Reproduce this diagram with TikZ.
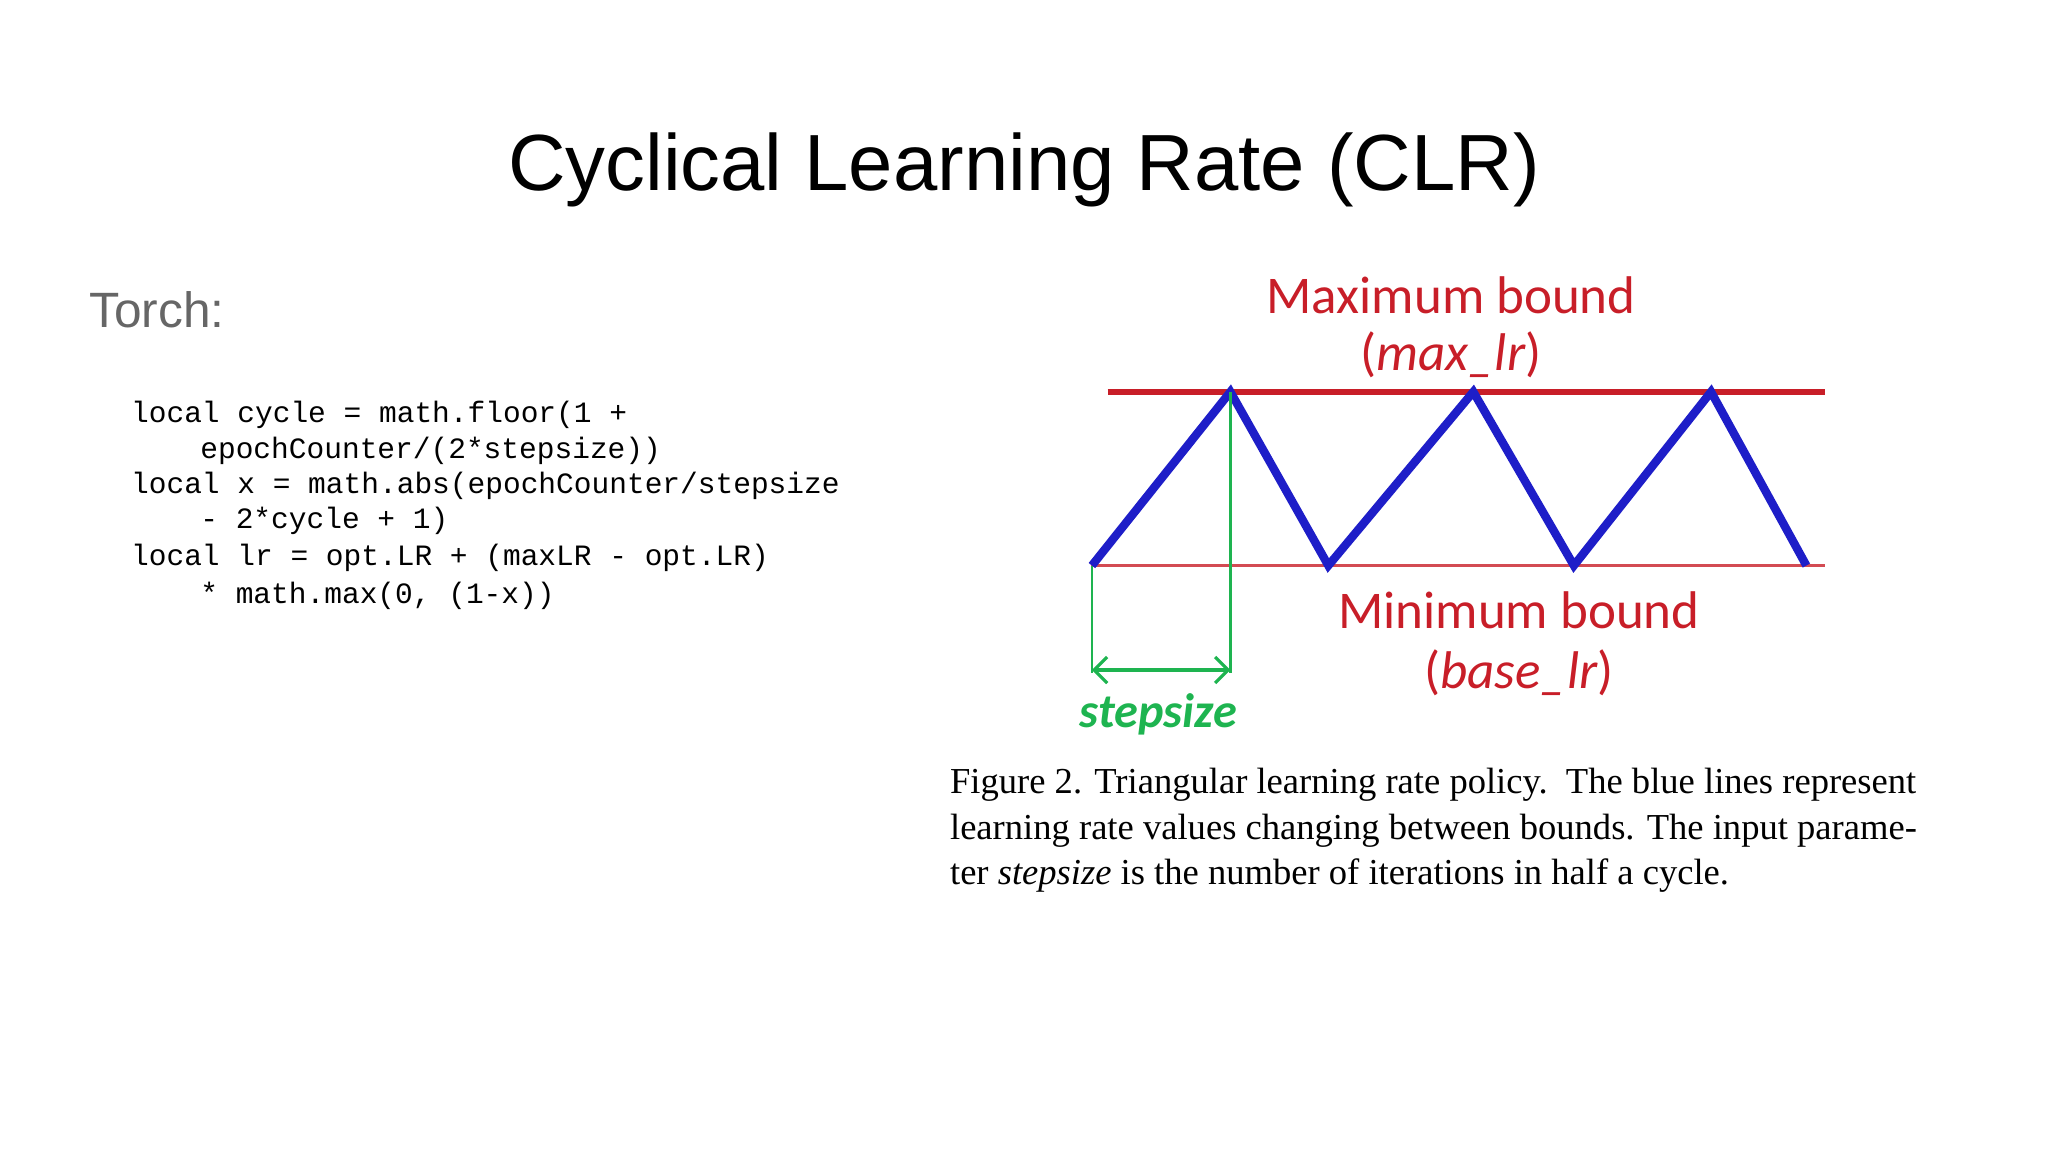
\documentclass[tikz,border=0pt]{standalone}
\usepackage{fontspec}
\setmainfont{Liberation Serif}
\newfontfamily\arialf{Liberation Sans}
\newfontfamily\calib{Carlito}
\newfontfamily\monof{Liberation Mono}
\usetikzlibrary{arrows.meta}
\definecolor{cred}{RGB}{200,30,40}
\definecolor{cblue}{RGB}{30,30,200}
\definecolor{cgreen}{RGB}{30,180,80}
\tikzset{codeline/.style={anchor=west,inner sep=0,font=\monof\fontsize{11.3}{12}\selectfont},
capline/.style={anchor=west,inner sep=0,font=\fontsize{14}{15}\selectfont},
lbl/.style={inner sep=0,text=cred,font=\calib\fontsize{20.3}{21}\selectfont}}
\begin{document}
\begin{tikzpicture}[x=0.5pt,y=-0.5pt]
\useasboundingbox (0,0) rectangle (1568,882);
\node (title) at (784,130) {\arialf\fontsize{30.5}{36}\selectfont Cyclical Learning Rate (CLR)};
\node[anchor=west,inner sep=0,text=black!60] (torch) at (68,237) {\arialf\fontsize{19}{20}\selectfont Torch:};
\node[codeline] (c1) at (100,318) {local cycle = math.floor(1 +};
\node[codeline] (c2) at (153,345) {epochCounter/(2*stepsize))};
\node[codeline] (c3) at (100,372) {local x = math.abs(epochCounter/stepsize};
\node[codeline] (c4) at (153,399) {- 2*cycle + 1)};
\node[codeline] (c5) at (100,427) {local lr = opt.LR + (maxLR - opt.LR)};
\node[codeline] (c6) at (153,456) {* math.max(0, (1-x))};
% chart
\coordinate (mx1) at (848,300); \coordinate (mx2) at (1397,300);
\coordinate (mn1) at (835,433); \coordinate (mn2) at (1397,433);
\draw[cred,line width=2.2pt] (mx1) -- (mx2);
\draw[cred!80,line width=1.2pt] (mn1) -- (mn2);
\coordinate (p0) at (836,433); \coordinate (p1) at (942,300); \coordinate (p2) at (1017,433);
\coordinate (p3) at (1128,300); \coordinate (p4) at (1205,433); \coordinate (p5) at (1310,300);
\coordinate (p6) at (1383,433);
\draw[cblue,line width=3.2pt] (p0)--(p1)--(p2)--(p3)--(p4)--(p5)--(p6);
\coordinate (g0) at (836,515); \coordinate (g1) at (942,515);
\draw[cgreen,line width=1pt] (p0) -- (g0);
\draw[cgreen,line width=1pt] (p1) -- (g1);
\coordinate (a0) at (836,513); \coordinate (a1) at (942,513);
\draw[cgreen,line width=1.2pt,{Straight Barb[length=5pt]}-{Straight Barb[length=5pt]}] (a0) -- (a1);
\node[inner sep=0,text=cgreen,font=\calib\bfseries\itshape\fontsize{18.5}{19}\selectfont] (ss) at (887,547) {stepsize};
\node[lbl] (maxb) at (1111,226) {Maximum bound};
\node[lbl] (maxl) at (1111,272) {(\textit{max\_lr})};
\node[lbl] (minb) at (1163,467) {Minimum bound};
\node[lbl] (minl) at (1163,515) {(\textit{base\_lr})};
% caption
\node[capline] (l1) at (727,601) {Figure 2. Triangular learning rate policy.\ \ The blue lines represent};
\node[capline] (l2) at (727,636) {learning rate values changing between bounds. The input parame-};
\node[capline] (l3) at (727,670) {ter \textit{stepsize} is the number of iterations in half a cycle.};
\end{tikzpicture}
\end{document}
